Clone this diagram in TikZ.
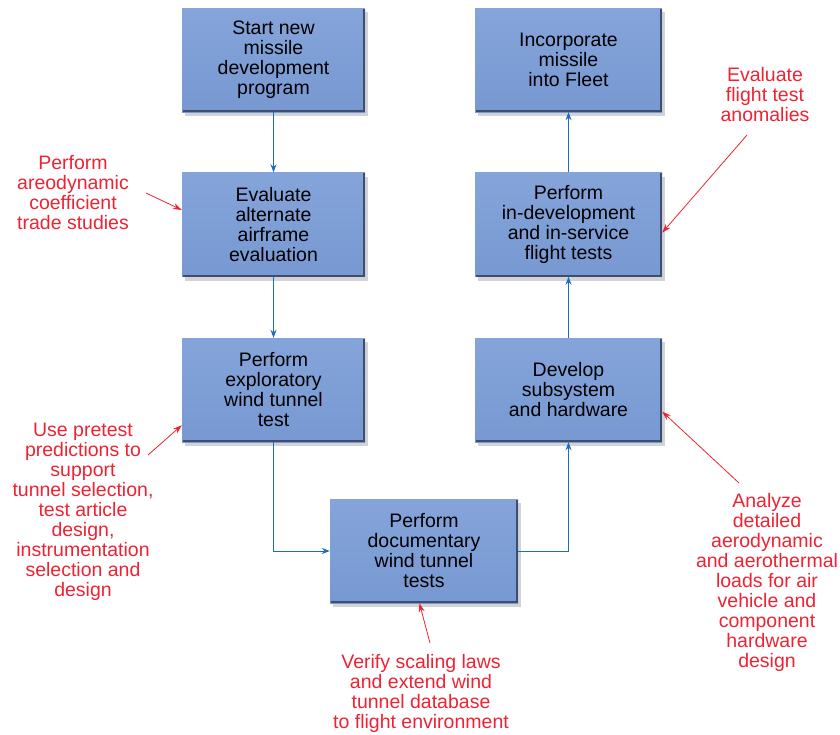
\documentclass[tikz,border=0pt]{standalone}
\usepackage{fontspec}
\setmainfont{Liberation Sans}
\usetikzlibrary{arrows.meta,shadows}

\definecolor{BoxTop}{HTML}{84A4DA}
\definecolor{BoxBot}{HTML}{7898D2}
\definecolor{BoxRim}{HTML}{3E4E70}
\definecolor{Flow}{HTML}{1C6DBE}
\definecolor{Note}{HTML}{EE2233}

\tikzset{
  stage/.style 2 args = {
    rectangle,
    minimum width = #1,
    minimum height = #2,
    inner sep = 0pt,
    align = center,
    top color = BoxTop,
    bottom color = BoxBot,
    drop shadow = {shadow xshift=3pt, shadow yshift=-4pt, opacity=0.35},
    font = \fontsize{19.5}{20}\selectfont,
  },
  note/.style = {
    align = center,
    inner sep = 0pt,
    text = Note,
    font = \fontsize{19.5}{20}\selectfont,
  },
  rim/.style = {BoxRim, line width=2pt},
  flow/.style = {Flow, line width=1pt, -{Stealth[length=8pt,width=6pt]}},
  hint/.style = {Note, line width=0.8pt, -{Stealth[length=9pt,width=6pt]}},
}

\begin{document}
\begin{tikzpicture}[x=1pt,y=-1pt]
  \useasboundingbox (0,0) rectangle (840,734);
  % process boxes
  \node[stage={183pt}{104pt}](start)   at (273.5, 60)  {Start new\\missile\\development\\program};
  \node[stage={183pt}{104pt}](eval)    at (273.5,224.5){Evaluate\\alternate\\airframe\\evaluation};
  \node[stage={183pt}{104pt}](explor)  at (273.5,390)  {Perform\\exploratory\\wind tunnel\\test};
  \node[stage={188pt}{104pt}](doc)     at (424,  551)  {Perform\\documentary\\wind tunnel\\tests};
  \node[stage={187pt}{104pt}](develop) at (568.5,390)  {Develop\\subsystem\\and hardware};
  \node[stage={187pt}{104pt}](flight)  at (568.5,224.5){Perform\\in-development\\and in-service\\flight tests};
  \node[stage={187pt}{104pt}](fleet)   at (568.5, 60)  {Incorporate\\missile\\into Fleet};
  % bevel on the lower and right edges
  \foreach \b in {start,eval,explor,doc,develop,flight,fleet}
    \draw[rim] ([shift={(1,-1)}]\b.south west) -- ([shift={(-1,-1)}]\b.south east)
               -- ([shift={(-1,1)}]\b.north east);
  % notes
  \node[note](trade)   at (73, 193) {Perform\\areodynamic\\coefficient\\trade studies};
  \node[note](pretest) at (83, 512) {Use pretest\\predictions to\\support\\tunnel selection,\\test article\\design,\\instrumentation\\selection and\\design};
  \node[note](verify)  at (421,693) {Verify scaling laws\\and extend wind\\tunnel database\\to flight environment};
  \node[note](loads)   at (767,582) {Analyze\\detailed\\aerodynamic\\and aerothermal\\loads for air\\vehicle and\\component\\hardware\\design};
  \node[note](anomaly) at (765, 95) {Evaluate\\flight test\\anomalies};
  \coordinate (t1) at (146,193);
  \coordinate (t2) at (148,455);
  \coordinate (t3) at (430,643);
  \coordinate (t4) at (739,483);
  \coordinate (t5) at (747,135);
  % flow
  \draw[flow](start) -- (eval);
  \draw[flow](eval) -- (explor);
  \draw[flow](explor.south) |- (doc.west);
  \draw[flow](doc.east) -| (develop.south);
  \draw[flow](develop) -- (flight);
  \draw[flow](flight) -- (fleet);
  % note pointers
  \draw[hint](t1) -- (eval.171.6);
  \draw[hint](t2) -- (explor.201.4);
  \draw[hint](t3) -- (doc.265);
  \draw[hint](t4) -- (develop.347);
  \draw[hint](t5) -- (flight.355.6);
\end{tikzpicture}
\end{document}
